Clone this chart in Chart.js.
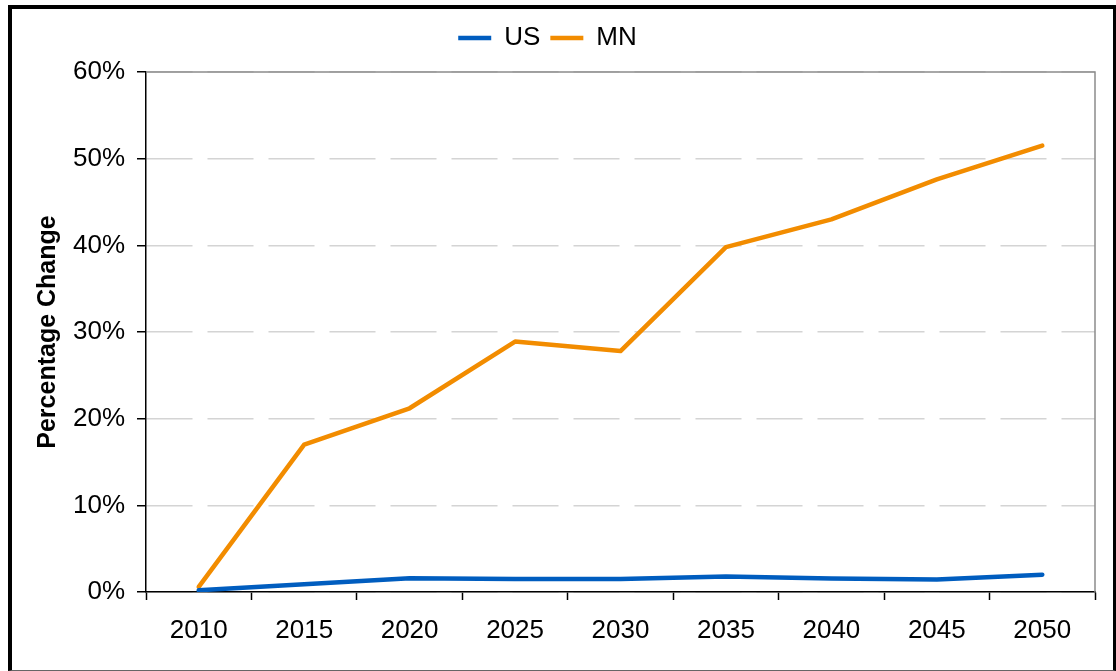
<!DOCTYPE html>
<html>
<head>
<meta charset="utf-8">
<script src="https://cdn.jsdelivr.net/npm/chart.js@4/dist/chart.umd.min.js"></script>
<style>
  html, body { margin: 0; padding: 0; background: #fff; }
  #wrap { position: relative; width: 1116px; height: 671px; overflow: hidden; }
  #frame {
    position: absolute; left: 8px; top: 5px; width: 1108px; height: 666px;
    box-sizing: border-box;
    border-left: 4px solid #000; border-top: 4px solid #000;
    border-right: 3px solid #000; border-bottom: 1px solid #666;
    pointer-events: none;
  }
  canvas { position: absolute; left: 0; top: 0; }
</style>
</head>
<body>
<div id="wrap">
  <canvas id="c" width="1116" height="671"></canvas>
  <div id="frame"></div>
</div>
<script>
const categories = ['2010', '2015', '2020', '2025', '2030', '2035', '2040', '2045', '2050'];
const usValues = [0.2, 0.9, 1.6, 1.5, 1.5, 1.8, 1.55, 1.45, 2.0];
const mnValues = [0.6, 17.0, 21.2, 28.9, 27.8, 39.8, 43.0, 47.6, 51.5];
const seriesNames = ['US', 'MN'];
const yTitle = 'Percentage Change';
const yMin = 0, yMax = 60, yStep = 10;

const FONT = "'Liberation Sans', Arial, Helvetica, sans-serif";

const plotFrame = {
  id: 'plotFrame',
  beforeDatasetsDraw(chart) {
    const {ctx, chartArea: a} = chart;
    ctx.save();
    ctx.strokeStyle = '#8c8c8c';
    ctx.lineWidth = 1.5;
    ctx.beginPath();
    ctx.moveTo(a.left, a.top);
    ctx.lineTo(a.right, a.top);
    ctx.lineTo(a.right, a.bottom);
    ctx.stroke();
    ctx.restore();
  }
};

new Chart(document.getElementById('c'), {
  type: 'line',
  data: {
    labels: categories,
    datasets: [
      { label: seriesNames[0], data: usValues, borderColor: '#005DBF', backgroundColor: '#005DBF',
        borderWidth: 4.5, pointRadius: 0, borderCapStyle: 'round', borderJoinStyle: 'round', tension: 0 },
      { label: seriesNames[1], data: mnValues, borderColor: '#F28C00', backgroundColor: '#F28C00',
        borderWidth: 4.5, pointRadius: 0, borderCapStyle: 'round', borderJoinStyle: 'round', tension: 0 }
    ]
  },
  options: {
    responsive: false,
    animation: false,
    layout: { padding: { top: 15, right: 21, bottom: 0, left: 0 } },
    plugins: {
      legend: {
        position: 'top',
        labels: {
          usePointStyle: true, pointStyle: 'line', pointStyleWidth: 33,
          padding: 10, color: '#000',
          font: { family: FONT, size: 26 }
        }
      },
      subtitle: { display: true, text: '', weight: 500, padding: 0, font: { size: 11, lineHeight: 1 } },
      tooltip: { enabled: false }
    },
    scales: {
      x: {
        offset: true,
        grid: { display: true, drawOnChartArea: false, drawTicks: true, tickLength: 8, tickColor: '#000', tickWidth: 1.5, offset: true },
        border: { color: '#000', width: 1.5 },
        ticks: { color: '#000', padding: 15, font: { family: FONT, size: 26 }, maxRotation: 0 },
        afterFit(scale) { scale.height = 79; }
      },
      y: {
        min: yMin, max: yMax,
        grid: { color: '#d4d4d4', lineWidth: 1.5, tickColor: '#000', tickWidth: 1.5, tickLength: 9, tickBorderDash: [] },
        border: { color: '#000', width: 1.5, dash: [46, 15] },
        ticks: { stepSize: yStep, color: '#000', padding: 12, font: { family: FONT, size: 26 },
                 callback: v => v + '%' },
        title: { display: true, text: yTitle, color: '#000', font: { family: FONT, size: 25, weight: 'bold' },
                 padding: { top: 33, bottom: 0 } },
        afterFit(scale) { scale.width = 146; }
      }
    }
  },
  plugins: [plotFrame]
});
</script>
</body>
</html>
